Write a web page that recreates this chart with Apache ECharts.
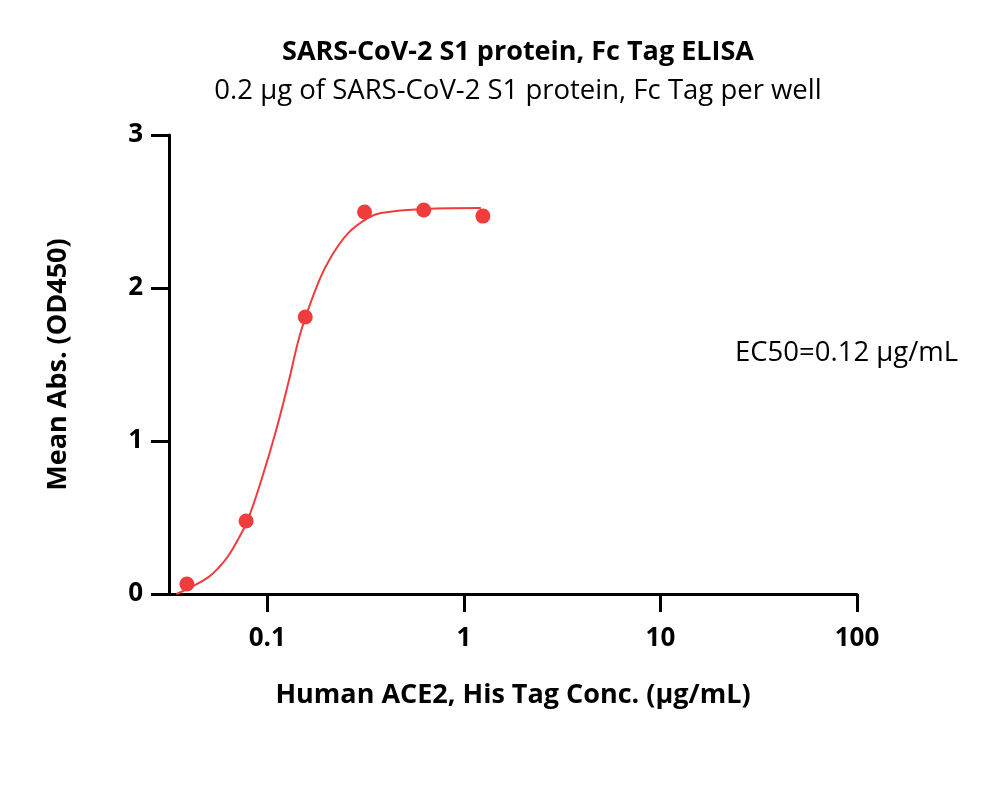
<!DOCTYPE html>
<html>
<head>
<meta charset="utf-8">
<script src="https://cdn.jsdelivr.net/npm/echarts@6/dist/echarts.min.js"></script>
<style>
  html, body { margin: 0; padding: 0; background: #fff; }
  #chart { width: 1000px; height: 790px; }
</style>
</head>
<body>
<div id="chart"></div>
<script>
// measured points (ug/mL, OD450)
const conc = [0.039, 0.078, 0.156, 0.3125, 0.625, 1.25];
const od = [0.065, 0.477, 1.81, 2.497, 2.51, 2.47];

// fitted curve
const fitConc = [0.0345, 0.0411, 0.0502, 0.0564, 0.0634, 0.0705, 0.0791, 0.0933, 0.111, 0.129, 0.149, 0.184, 0.211, 0.258, 0.326, 0.379, 0.627, 1.22];
const fitOd = [0.0, 0.045, 0.11, 0.17, 0.25, 0.35, 0.477, 0.745, 1.072, 1.399, 1.725, 2.052, 2.203, 2.359, 2.458, 2.49, 2.516, 2.523];

const xTicks = [0.1, 1, 10, 100];
const xTickLabels = ['0.1', '1', '10', '100'];

const red = '#f03c3c';
const font = '"Open Sans"';

var myChart = echarts.init(document.getElementById('chart'));

const lg = v => Math.log10(v);
const xLog = xTicks.map(lg);

myChart.setOption({
    animation: false,
    title: [
        {
            text: 'SARS-CoV-2 S1 protein, Fc Tag ELISA',
            left: 513, top: 34, textAlign: 'center',
            textStyle: { fontFamily: font, fontSize: 27, fontWeight: 'bold', color: '#000' }
        },
        {
            text: '0.2 μg of SARS-CoV-2 S1 protein, Fc Tag per well',
            left: 513, top: 72, textAlign: 'center',
            textStyle: { fontFamily: font, fontSize: 27.5, fontWeight: 'normal', color: '#000' }
        }
    ],
    grid: { left: 169, right: 143, top: 135, bottom: 196 },
    xAxis: {
        type: 'value',
        min: -1.5,
        max: 2,
        name: 'Human ACE2, His Tag Conc. (μg/mL)',
        nameLocation: 'middle',
        nameGap: 88,
        nameTextStyle: { fontFamily: font, fontSize: 27, fontWeight: 'bold', color: '#000' },
        axisLine: { onZero: false, lineStyle: { color: '#000', width: 3 } },
        axisTick: { customValues: xLog, length: 18, lineStyle: { color: '#000', width: 3 } },
        axisLabel: {
            customValues: xLog,
            margin: 32,
            fontFamily: font, fontSize: 26, fontWeight: 'bold', color: '#000',
            formatter: v => xTickLabels[xLog.findIndex(t => Math.abs(t - v) < 1e-6)]
        },
        splitLine: { show: false }
    },
    yAxis: {
        type: 'value',
        min: 0,
        max: 3,
        interval: 1,
        name: 'Mean Abs. (OD450)',
        nameLocation: 'middle',
        nameGap: 97,
        nameTextStyle: { fontFamily: font, fontSize: 27, fontWeight: 'bold', color: '#000' },
        axisLine: { show: true, onZero: false, lineStyle: { color: '#000', width: 3 } },
        axisTick: { show: true, length: 18, lineStyle: { color: '#000', width: 3 } },
        axisLabel: {
            margin: 26,
            fontFamily: font, fontSize: 26, fontWeight: 'bold', color: '#000'
        },
        splitLine: { show: false }
    },
    series: [
        {
            type: 'line',
            data: fitConc.map((c, i) => [lg(c), fitOd[i]]),
            smooth: 0.4,
            showSymbol: false,
            lineStyle: { color: red, width: 2 },
            silent: true
        },
        {
            type: 'scatter',
            data: conc.map((c, i) => [lg(c), od[i]]),
            symbolSize: 15,
            itemStyle: { color: red, opacity: 1 }
        }
    ],
    graphic: [
        {
            type: 'text',
            left: 735, top: 339,
            style: { text: 'EC50=0.12 μg/mL', font: 'normal 27.5px ' + font, fill: '#000' }
        }
    ]
});
</script>
</body>
</html>
